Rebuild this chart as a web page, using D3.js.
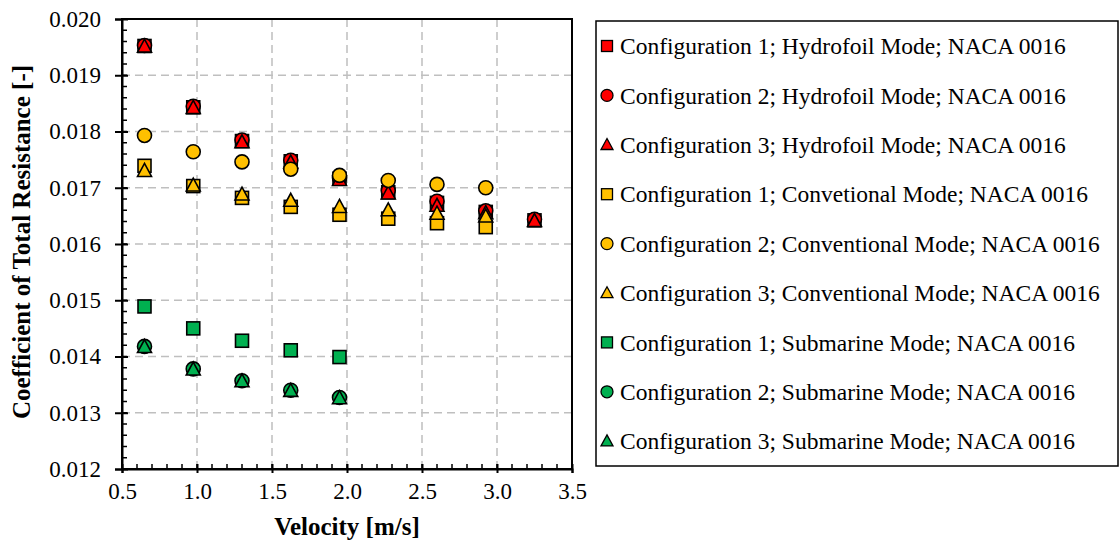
<!DOCTYPE html>
<html>
<head>
<meta charset="utf-8">
<script src="https://cdn.jsdelivr.net/npm/d3@7"></script>
<style>
  html, body { margin: 0; padding: 0; background: #fff; }
  svg { display: block; }
  text { font-family: "Liberation Serif", "Times New Roman", serif; fill: #000; }
</style>
</head>
<body>
<svg id="chart" width="1120" height="547"></svg>
<script>
// ---- data ----
const velocity = [0.65, 0.975, 1.3, 1.625, 1.95, 2.275, 2.6, 2.925, 3.25];

const hydroC1 = [0.01952, 0.01843, 0.01783, 0.01747, 0.01716, 0.01692, 0.01673, 0.01657, 0.01642];
const hydroC2 = [0.01953, 0.01845, 0.01785, 0.01749, 0.01718, 0.01695, 0.01676, 0.01659, 0.01644];
const hydroC3 = [0.01951, 0.01842, 0.01781, 0.01745, 0.01714, 0.01690, 0.01668, 0.01655, 0.01641];

const convC1 = [0.01739, 0.01703, 0.01682, 0.01666, 0.01652, 0.01645, 0.01637, 0.01630];
const convC2 = [0.01793, 0.01764, 0.01746, 0.01733, 0.01722, 0.01713, 0.01706, 0.01700];
const convC3 = [0.01730, 0.01704, 0.01688, 0.01677, 0.01666, 0.01660, 0.01654, 0.01649];

const subC1 = [0.01489, 0.01450, 0.01428, 0.01411, 0.01399];
const subC2 = [0.01418, 0.01378, 0.01357, 0.01340, 0.01327];
const subC3 = [0.01417, 0.01377, 0.01356, 0.01339, 0.01326];

const seriesNames = [
  "Configuration 1; Hydrofoil Mode; NACA 0016",
  "Configuration 2; Hydrofoil Mode; NACA 0016",
  "Configuration 3; Hydrofoil Mode; NACA 0016",
  "Configuration 1; Convetional Mode; NACA 0016",
  "Configuration 2; Conventional Mode; NACA 0016",
  "Configuration 3; Conventional Mode; NACA 0016",
  "Configuration 1; Submarine Mode; NACA 0016",
  "Configuration 2; Submarine Mode; NACA 0016",
  "Configuration 3; Submarine Mode; NACA 0016"
];
const seriesValues = [hydroC1, hydroC2, hydroC3, convC1, convC2, convC3, subC1, subC2, subC3];
const seriesShapes = ["square", "circle", "triangle", "square", "circle", "triangle", "square", "circle", "triangle"];
const seriesColors = ["#FF0000", "#FF0000", "#FF0000", "#FFC000", "#FFC000", "#FFC000", "#00B050", "#00B050", "#00B050"];

const xTicks = [0.5, 1.0, 1.5, 2.0, 2.5, 3.0, 3.5];
const yTicks = [0.012, 0.013, 0.014, 0.015, 0.016, 0.017, 0.018, 0.019, 0.020];
const xTitle = "Velocity [m/s]";
const yTitle = "Coefficient of Total Resistance [-]";

// ---- layout ----
const svg = d3.select("#chart");
const plot = { left: 122, right: 572, top: 19, bottom: 469 };
const x = d3.scaleLinear().domain([0.5, 3.5]).range([plot.left, plot.right]);
const y = d3.scaleLinear().domain([0.012, 0.020]).range([plot.bottom, plot.top]);

// gridlines
const grid = svg.append("g");
grid.selectAll("line.vg").data(xTicks.slice(1, -1)).enter().append("line")
  .attr("x1", d => x(d)).attr("x2", d => x(d))
  .attr("y1", plot.top).attr("y2", plot.bottom)
  .attr("stroke", "#BFBFBF").attr("stroke-width", 1.5).attr("stroke-dasharray", "8,5");
grid.selectAll("line.hg").data(yTicks.slice(1, -1)).enter().append("line")
  .attr("y1", d => y(d)).attr("y2", d => y(d))
  .attr("x1", plot.left).attr("x2", plot.right)
  .attr("stroke", "#BFBFBF").attr("stroke-width", 1.5).attr("stroke-dasharray", "8,5");

// frame
svg.append("rect")
  .attr("x", plot.left).attr("y", plot.top)
  .attr("width", plot.right - plot.left).attr("height", plot.bottom - plot.top)
  .attr("fill", "none").attr("stroke", "#000").attr("stroke-width", 2);

// axes
const xMinor = d3.range(5, 36).map(v => v / 10);
const yMinor = d3.range(60, 101).map(v => v / 5000);

const xAxis = svg.append("g").attr("transform", `translate(0,${plot.bottom})`)
  .call(d3.axisBottom(x).tickValues(xTicks).tickFormat(d3.format(".1f")).tickSize(4).tickPadding(10));
xAxis.select(".domain").attr("stroke", "#000").attr("stroke-width", 2);
xAxis.selectAll(".tick line").attr("y1", -5).attr("y2", 4).attr("stroke-width", 2);
xAxis.selectAll(".tick text").style("font-size", "23px").style("font-family", "Liberation Serif");

svg.append("g").selectAll("line").data(xMinor).enter().append("line")
  .attr("x1", d => x(d)).attr("x2", d => x(d))
  .attr("y1", plot.bottom).attr("y2", plot.bottom - 5)
  .attr("stroke", "#000").attr("stroke-width", 1.5);

const yAxis = svg.append("g").attr("transform", `translate(${plot.left},0)`)
  .call(d3.axisLeft(y).tickValues(yTicks).tickFormat(d3.format(".3f")).tickSize(7).tickPadding(14));
yAxis.select(".domain").attr("stroke", "#000").attr("stroke-width", 2);
yAxis.selectAll(".tick line").attr("x1", -7).attr("x2", 6).attr("stroke-width", 2);
yAxis.selectAll(".tick text").style("font-size", "23px").style("font-family", "Liberation Serif");

svg.append("g").selectAll("line").data(yMinor).enter().append("line")
  .attr("y1", d => y(d)).attr("y2", d => y(d))
  .attr("x1", plot.left).attr("x2", plot.left + 5)
  .attr("stroke", "#000").attr("stroke-width", 1.5);

// axis titles
svg.append("text")
  .attr("x", (plot.left + plot.right) / 2).attr("y", 535)
  .attr("text-anchor", "middle")
  .style("font-size", "25px").style("font-weight", "bold")
  .text(xTitle);
svg.append("text")
  .attr("transform", `translate(30,${(plot.top + plot.bottom) / 2 - 2}) rotate(-90)`)
  .attr("text-anchor", "middle")
  .style("font-size", "25px").style("font-weight", "bold")
  .text(yTitle);

// markers
function marker(sel, shape, size) {
  if (shape === "square") {
    sel.append("rect").attr("x", -size / 2).attr("y", -size / 2).attr("width", size).attr("height", size);
  } else if (shape === "circle") {
    sel.append("circle").attr("r", size / 2 + 0.5);
  } else {
    const h = size * 0.95;
    sel.append("path").attr("d", `M0,${-h * 0.6}L${size / 2 + 0.5},${h * 0.45}L${-size / 2 - 0.5},${h * 0.45}Z`);
  }
}

seriesValues.forEach((vals, i) => {
  const g = svg.append("g");
  vals.forEach((v, j) => {
    const m = g.append("g").attr("transform", `translate(${x(velocity[j])},${y(v)})`)
      .attr("fill", seriesColors[i]).attr("stroke", "#000").attr("stroke-width", 1.6);
    marker(m, seriesShapes[i], 13);
  });
});

// legend
const legend = svg.append("g");
legend.append("rect")
  .attr("x", 596).attr("y", 21).attr("width", 522).attr("height", 445)
  .attr("fill", "#fff").attr("stroke", "#000").attr("stroke-width", 1.5);
seriesNames.forEach((name, i) => {
  const cy = 46 + i * 49.4;
  const m = legend.append("g").attr("transform", `translate(607,${cy})`)
    .attr("fill", seriesColors[i]).attr("stroke", "#000").attr("stroke-width", 1.3);
  marker(m, seriesShapes[i], 11);
  legend.append("text").attr("x", 620).attr("y", cy).attr("dy", "0.35em")
    .style("font-size", "23.5px").text(name);
});
</script>
</body>
</html>
